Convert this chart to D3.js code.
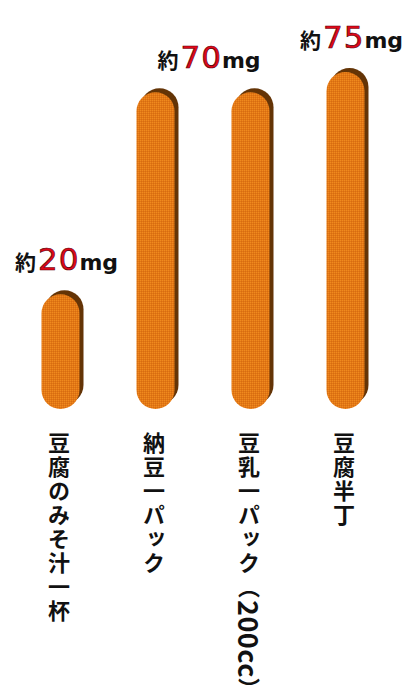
<!DOCTYPE html>
<html>
<head>
<meta charset="utf-8">
<script src="https://cdn.jsdelivr.net/npm/d3@7/dist/d3.min.js"></script>
<style>
  html, body { margin: 0; padding: 0; background: #fff; }
  svg { display: block; }
  .vlabel { writing-mode: vertical-rl; text-orientation: mixed; glyph-orientation-vertical: auto; }
</style>
</head>
<body>
<svg id="chart" width="416" height="691"></svg>
<script>
// Isoflavone-style intake per food (mg), shown as capsule bars
const categories = ["豆腐のみそ汁一杯", "納豆一パック", "豆乳一パック（200cc）", "豆腐半丁"];
const values = [20, 70, 70, 75];
// value callouts: which bars each label sits above, and the value it states
const callouts = [
  { bars: [0], value: 20 },
  { bars: [1, 2], value: 70 },
  { bars: [3], value: 75 }
];

const W = 416, H = 691;
const baseY = 409;
const svg = d3.select("#chart");

const x = d3.scaleBand()
  .domain(d3.range(categories.length))
  .range([13, 393])
  .paddingInner(0.6)
  .paddingOuter(0.3);

const y = d3.scaleLinear().domain([0, 75]).range([375, 72]);

const barW = 38;
const cx = i => x(i) + x.bandwidth() / 2;

// capsule path from top to baseline
function capsule(x0, top, w, bottom) {
  const r = w / 2;
  return `M${x0},${top + r}` +
    `A${r},${r} 0 0 1 ${x0 + w},${top + r}` +
    `L${x0 + w},${bottom - r}` +
    `A${r},${r} 0 0 1 ${x0},${bottom - r}Z`;
}

// dotted texture for the orange fill
const defs = svg.append("defs");
const pat = defs.append("pattern")
  .attr("id", "dots").attr("width", 2).attr("height", 2)
  .attr("patternUnits", "userSpaceOnUse");
pat.append("rect").attr("width", 2).attr("height", 2).attr("fill", "#e27816");
pat.append("rect").attr("width", 1).attr("height", 1).attr("fill", "#f08a1e");
pat.append("rect").attr("x", 1).attr("y", 1).attr("width", 1).attr("height", 1).attr("fill", "#d86c10");

const bars = svg.append("g").selectAll("g").data(values).join("g");

// drop shadow, offset up and to the right
bars.append("path")
  .attr("d", (d, i) => capsule(cx(i) - barW / 2 + 4, y(d) - 4, barW, baseY - 5))
  .attr("fill", "#643406");

bars.append("path")
  .attr("d", (d, i) => capsule(cx(i) - barW / 2, y(d), barW, baseY))
  .attr("fill", "url(#dots)");

// value labels
const lab = svg.append("g").selectAll("text").data(callouts).join("text")
  .attr("x", d => d3.mean(d.bars, cx) + 6)
  .attr("y", d => y(d.value) - 24)
  .attr("text-anchor", "middle")
  .attr("font-family", "'DejaVu Sans', sans-serif");

lab.append("tspan")
  .attr("font-family", "'Noto Sans CJK JP', sans-serif")
  .attr("font-weight", 700)
  .attr("font-size", 21)
  .attr("fill", "#111")
  .text("約");
lab.append("tspan")
  .attr("font-size", 31)
  .attr("dx", 2)
  .attr("letter-spacing", 1)
  .attr("fill", "#e00818")
  .attr("stroke", "#5a0008")
  .attr("stroke-width", 0.7)
  .text(d => d.value);
lab.append("tspan")
  .attr("font-size", 22)
  .attr("font-weight", 700)
  .attr("fill", "#111")
  .text("mg");

// vertical category labels; half-width runs (e.g. "200cc") set a little larger
const segments = s => s.match(/[\x00-\x7f]+|[^\x00-\x7f]+/g)
  .map(t => ({ t, latin: /^[\x00-\x7f]+$/.test(t) }));

const vl = svg.append("g").selectAll("text").data(categories).join("text")
  .attr("class", "vlabel")
  .attr("x", (d, i) => cx(i) - 1.5)
  .attr("y", 432)
  .attr("letter-spacing", 2)
  .attr("font-family", "'Noto Sans CJK JP', sans-serif")
  .attr("font-weight", 700)
  .attr("font-size", 22)
  .attr("fill", "#111");

vl.selectAll("tspan").data(d => segments(d)).join("tspan")
  .attr("font-size", s => s.latin ? 27 : null)
  .attr("letter-spacing", s => s.latin ? 0.5 : null)
  .text(s => s.t);
</script>
</body>
</html>
